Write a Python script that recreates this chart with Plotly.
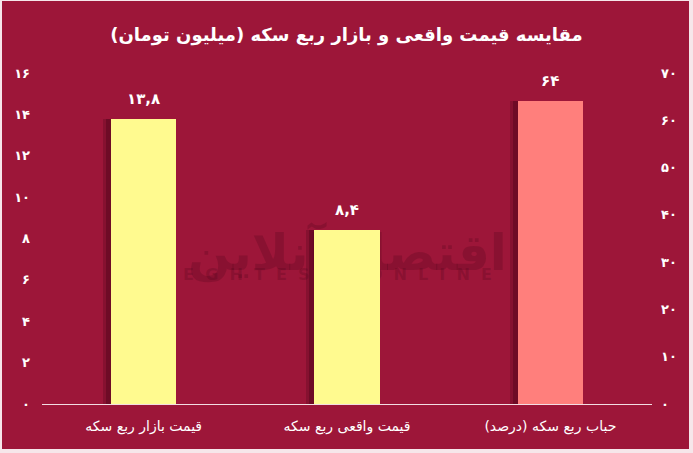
import plotly.graph_objects as go

categories = ["قیمت بازار ربع سکه", "قیمت واقعی ربع سکه", "حباب ربع سکه (درصد)"]
price_cats = categories[:2]
price_values = [13.8, 8.4]
price_labels = ["۱۳,۸", "۸,۴"]
bubble_cats = categories[2:]
bubble_values = [64]
bubble_labels = ["۶۴"]
left_ticks = [0, 2, 4, 6, 8, 10, 12, 14, 16]
left_ticktext = ["۰", "۲", "۴", "۶", "۸", "۱۰", "۱۲", "۱۴", "۱۶"]
right_ticks = [0, 10, 20, 30, 40, 50, 60, 70]
right_ticktext = ["۰", "۱۰", "۲۰", "۳۰", "۴۰", "۵۰", "۶۰", "۷۰"]
title = "مقایسه قیمت واقعی و بازار ربع سکه (میلیون تومان)"

BG = "#9D1639"
FRAME = "#F6E6EA"
FONT = "DejaVu Sans"
W, H = 693, 453
L, R, T, B = 42, 41, 73, 49
PW, PH = W - L - R, H - T - B


def px(x):
    return (x - L) / PW


def py(y):
    return (H - B - y) / PH


fig = go.Figure()
bw = 0.32
for cats, vals, ax in [(price_cats, price_values, "y"), (bubble_cats, bubble_values, "y2")]:
    fig.add_trace(go.Bar(x=cats, y=vals, yaxis=ax, width=0.05, offset=-bw / 2 - 0.04,
                         marker=dict(color="rgba(55,0,18,0.22)", line=dict(width=0)),
                         hoverinfo="skip", showlegend=False))
    fig.add_trace(go.Bar(x=cats, y=vals, yaxis=ax, width=0.03, offset=-bw / 2 - 0.025,
                         marker=dict(color="rgba(55,0,18,0.30)", line=dict(width=0)),
                         hoverinfo="skip", showlegend=False))

fig.add_trace(go.Bar(x=price_cats, y=price_values, yaxis="y", width=bw, offset=-bw / 2,
                     marker=dict(color="#FFFA8F", line=dict(width=0)), showlegend=False))
fig.add_trace(go.Bar(x=bubble_cats, y=bubble_values, yaxis="y2", width=bw, offset=-bw / 2,
                     marker=dict(color="#FF7F7C", line=dict(width=0)), showlegend=False))

annotations = []
for cats, vals, labs, ax in [(price_cats, price_values, price_labels, "y"),
                             (bubble_cats, bubble_values, bubble_labels, "y2")]:
    for c, v, t in zip(cats, vals, labs):
        annotations.append(dict(x=c, y=v, xref="x", yref=ax, text=t, showarrow=False,
                                yanchor="bottom", yshift=9,
                                font=dict(size=15, color="white", family=FONT, weight="bold")))

wm_color = "rgba(60,0,18,0.20)"
shapes = [
    # watermark (below traces)
    dict(type="rect", xref="paper", yref="paper", x0=px(170), x1=px(525), y0=py(278), y1=py(222),
         layer="below", line=dict(width=0), fillcolor="rgba(0,0,0,0)",
         label=dict(text="اقتصاد آنلاین", font=dict(size=50, color=wm_color,
                                                   family=FONT, weight="bold"))),
    dict(type="rect", xref="paper", yref="paper", x0=px(175), x1=px(500), y0=py(284), y1=py(262),
         layer="below", line=dict(width=0), fillcolor="rgba(0,0,0,0)",
         label=dict(text="E  G  H  T  E  S  A  D  O  N  L  I  N  E",
                    font=dict(size=16, color=wm_color, family=FONT, weight="bold"))),
    # light frame
    dict(type="rect", xref="paper", yref="paper", x0=px(689), x1=px(693), y0=py(0), y1=py(453),
         layer="above", line=dict(width=0), fillcolor=FRAME),
    dict(type="rect", xref="paper", yref="paper", x0=px(0), x1=px(693), y0=py(449), y1=py(453),
         layer="above", line=dict(width=0), fillcolor=FRAME),
    dict(type="rect", xref="paper", yref="paper", x0=px(0), x1=px(693), y0=py(0), y1=py(1),
         layer="above", line=dict(width=0), fillcolor=FRAME),
    dict(type="rect", xref="paper", yref="paper", x0=px(0), x1=px(2), y0=py(0), y1=py(453),
         layer="above", line=dict(width=0), fillcolor=FRAME),
]

tickfont = dict(size=13, color="white", family=FONT, weight="bold")
fig.update_layout(
    width=W, height=H,
    margin=dict(l=L, r=R, t=T, b=B),
    paper_bgcolor=BG, plot_bgcolor=BG,
    barmode="overlay", bargap=0,
    font=dict(family=FONT, color="white"),
    title=dict(text=title, x=0.5, xanchor="center", y=1 - 35 / H, yanchor="middle",
               font=dict(size=18, color="white", family=FONT, weight="bold")),
    xaxis=dict(categoryorder="array", categoryarray=categories, showgrid=False,
               showline=True, linecolor="#F3DDE3", linewidth=1, ticks="",
               tickfont=dict(size=14, color="white", family=FONT), ticklabelstandoff=9),
    yaxis=dict(range=[0, 16], tickvals=left_ticks, ticktext=left_ticktext, showgrid=False,
               zeroline=False, ticks="", tickfont=tickfont, ticklabelstandoff=11),
    yaxis2=dict(range=[0, 70], tickvals=right_ticks, ticktext=right_ticktext, showgrid=False,
                zeroline=False, overlaying="y", side="right", ticks="",
                tickfont=tickfont, ticklabelstandoff=8),
    shapes=shapes,
    annotations=annotations,
)

fig.write_html("out.html", config={"displayModeBar": False},
               post_script="document.body.style.margin='0';")
